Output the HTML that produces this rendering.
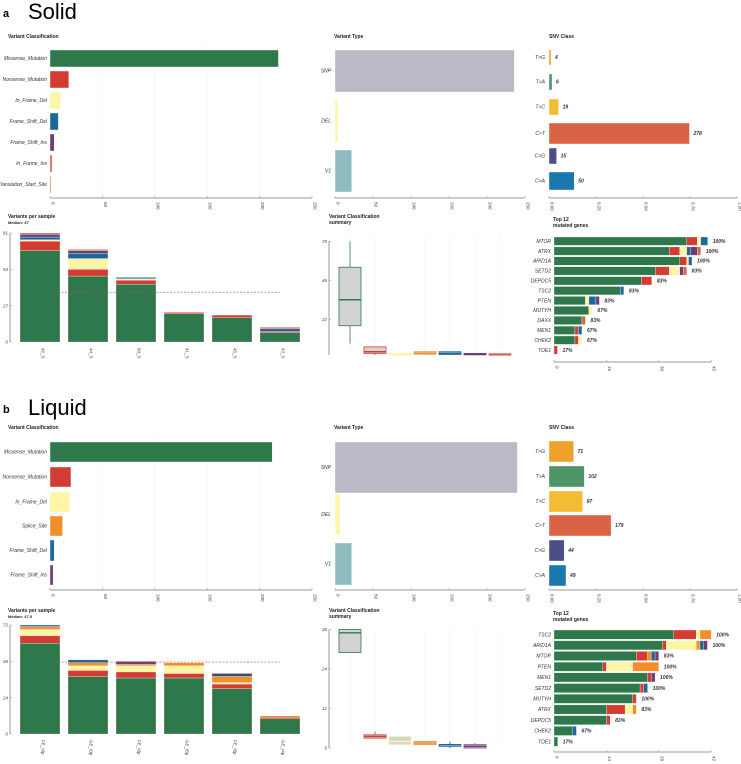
<!DOCTYPE html>
<html><head><meta charset="utf-8">
<style>
html,body{margin:0;padding:0;background:#fff;}
svg{display:block;font-family:"Liberation Sans",sans-serif;}
.t{font-size:5px;font-weight:bold;fill:#222}
.l{font-size:5px;font-style:italic;fill:#333}
.k{font-size:4.5px;fill:#444}
</style></head>
<body>
<svg id="fig" width="741" height="764" viewBox="0 0 741 764" xmlns="http://www.w3.org/2000/svg">
<text x="3" y="17" style="font-size:11px;font-weight:bold">a</text>
<text x="28" y="19" style="font-size:22px">Solid</text>
<text x="3" y="413" style="font-size:11px;font-weight:bold">b</text>
<text x="28" y="415" style="font-size:22px">Liquid</text>
</svg>
<script>
// ---- data: Solid ----
const sVcCats=["Missense_Mutation","Nonsense_Mutation","In_Frame_Del","Frame_Shift_Del","Frame_Shift_Ins","In_Frame_Ins","Translation_Start_Site"];
const sVcVals=[218,18,10,8,4,2,1];
const sVtCats=["SNP","DEL","V1"];
const sVtVals=[236,4,22];
const sSnvCats=["T>G","T>A","T>C","C>T","C>G","C>A"];
const sSnvVals=[4,6,19,278,15,50];
const sSamples=["46_S","44_S","50_S","41_S","45_S","43_S"];
const sStackKeys=["Missense_Mutation","Nonsense_Mutation","In_Frame_Del","Frame_Shift_Del","Frame_Shift_Ins","In_Frame_Ins","Splice_Site"];
const sStacks=[[68,7,1,2,2,1,0],[49,5,8,4,2,0,1],[43,3,1,1,0,0,0],[21,1,0,0,0,0,0],[18,2,0,0,0,0,0],[7,1,0,2,0,1,0]];
const sMedian=37;
const sSampleTicks=[0,27,54,81];
const sGenes=["MTOR","ATRX","ARID1A","SETD2","DEPDC5","TSC2","PTEN","MUTYH","DAXX","MEN1","CHEK2","TOE1"];
const sGeneStacks=[[38,3,1,2,0,0,0],[33,3,2,1,2,1,0],[36,2,0.5,1,0,0,0],[29,4,3,0,1,1,0],[25,3,0,0,0,0,0],[19,0,0,1,0,0,0],[9,0,1,2,1,0,0],[10,0,1,0,0,0,0],[8,0,0,0,0,1,0],[6,1,0,1,0,0,0],[6,1,1,0,0,0,0],[0,1,0,0,0,0,0]];
const sGenePct=["100%","100%","100%","83%","83%","83%","83%","67%","83%","67%","67%","17%"];
const sGeneTicks=[0,15,30,45];
const sBox=[[7,18,34,54,70],[0,1,2,5,5],[0,0,0.5,1,1],[0,0.5,1,2,2.5],[0,0.3,1,2,2],[0,0.3,0.5,1,1],[0,0.2,0.4,0.8,0.8]];
const sBoxTicks=[22,46,70];
// ---- data: Liquid ----
const lVcCats=["Missense_Mutation","Nonsense_Mutation","In_Frame_Del","Splice_Site","Frame_Shift_Del","Frame_Shift_Ins"];
const lVcVals=[212,20,19,12,4,3];
const lVtCats=["SNP","DEL","V1"];
const lVtVals=[240,7,22];
const lSnvCats=["T>G","T>A","T>C","C>T","C>G","C>A"];
const lSnvVals=[71,102,97,179,44,49];
const lSamples=["FE_I9p","GE_I0p","FE_I0p","GE_I8p","FE_I8p","GE_I4p"];
const lStackKeys=["Missense_Mutation","Nonsense_Mutation","In_Frame_Del","Splice_Site","Frame_Shift_Del","Frame_Shift_Ins","Multi_Hit"];
const lStacks=[[60,5,4,2,1,0,0],[38,4,3,2,2,0,0],[37,4,4,1,0,2,0],[37,3,5,2,0,0,0],[30,3,1,4,0,0,2],[10,1,0,1,0,0,0]];
const lMedian=47.5;
const lSampleTicks=[0,24,48,72];
const lGenes=["TSC2","ARID1A","MTOR","PTEN","MEN1","SETD2","MUTYH","ATRX","DEPDC5","CHEK2","TOE1"];
const lGeneStacks=[[32,6,1,3,0,0,0],[29,1,8,1,1,1,0],[22,3,0,1,1,1,0],[13,1,7,7,0,0,0],[25,1,0,0,0,1,0],[23,1,0,0,1,0,0],[21,1,0,0,0,0,0],[14,5,2,1,0,0,0],[14,1,0,0,0,0,0],[5,0,0,0,1,0,0],[1,0,0,0,0,0,0]];
const lGenePct=["100%","100%","83%","100%","100%","100%","100%","83%","83%","67%","17%"];
const lGeneTicks=[0,14,28,42];
const lBox=[[29,29,35,36,36],[3,3,3.5,4,5],[1,1,2,3.5,3.5],[1,1,1.5,2,2],[0,0.5,1,1,2],[0,0,0.5,1,1.5]];
const lBoxTicks=[0,12,24,36];
const vcTicks=[0,50,100,150,200,250];
const snvTicks=["0.00","0.25","0.50","0.75","1.00"];

const COL={Missense_Mutation:"#2f784c",Nonsense_Mutation:"#d23c33",In_Frame_Del:"#fdf5a6",Frame_Shift_Del:"#1c6898",Frame_Shift_Ins:"#6b3f75",In_Frame_Ins:"#d9644e",Translation_Start_Site:"#ee7a30",Splice_Site:"#f0902c",Multi_Hit:"#3d4a78"};
const VT={SNP:"#bdb8c5",DEL:"#fdf6ad",V1:"#8dbcc0"};
const SNV={"T>G":"#eea12b","T>A":"#4d9466","T>C":"#f4bb34","C>T":"#db6345","C>G":"#4c4f84","C>A":"#1a78ad"};
const BOXC=["#2f784c","#d23c33","#fdf5a6","#f0902c","#1c6898","#6b3f75","#d9644e"];

const svg=document.getElementById('fig');
const NS="http://www.w3.org/2000/svg";
function el(tag,at,txt){const e=document.createElementNS(NS,tag);for(const k in at)e.setAttribute(k,at[k]);if(txt!==undefined)e.textContent=txt;svg.appendChild(e);return e;}
function txt(x,y,s,cls,anchor,rot){const e=el('text',{x:x,y:y,class:cls,'text-anchor':anchor||'start'},s);if(rot)e.setAttribute('transform','rotate('+rot+' '+x+' '+y+')');return e;}
function grid(x0,x1,y0,y1,xs){xs.forEach(x=>{const g=el('line',{x1:x,x2:x,y1:y0,y2:y1,stroke:'#f0f0f0','stroke-width':0.5});});}
function xAxis(x0,x1,y,ticks,lab,name){const a=el('line',{x1:x0,x2:x1,y1:y,y2:y,stroke:'#999','stroke-width':1});
 ticks.forEach((t,i)=>{const x=x0+(x1-x0)*i/(ticks.length-1);el('line',{x1:x,x2:x,y1:y,y2:y-2,stroke:'#999','stroke-width':0.6});const tt=txt(x+1.5,y+4,lab?lab[i]:t,'k','start',90);});}

// horizontal bar chart with fixed row boxes
function hbar(cats,vals,colors,x0,pxPer,rows,labX,name,valLabels){
 cats.forEach((c,i)=>{const [y0,y1]=rows[i];const w=Math.max(0.8,vals[i]*pxPer);
  const r=el('rect',{x:x0,y:y0,width:w,height:y1-y0,fill:colors[c],stroke:'#fff','stroke-width':0.4});
  
  const t=txt(labX,(y0+y1)/2+1.7,c,'l','end');
  if(valLabels){const v=txt(x0+w+4,(y0+y1)/2+1.7,valLabels[i],'l');v.style.fontWeight='bold';}
 });}

function stackCols(samples,stacks,keys,x0,w,gap,yBase,pxPer,name){
 samples.forEach((s,i)=>{let y=yBase;const x=x0+i*(w+gap);
  stacks[i].forEach((v,k)=>{if(v<=0)return;const h=v*pxPer;y-=h;
   const r=el('rect',{x:x,y:y,width:w,height:h,fill:COL[keys[k]],stroke:'#fff','stroke-width':0.3});
   });
  const t=txt(x+w/2+1.5,yBase+6,s,'k','start',90);
 });}

function yAxis(x,yBase,pxPer,ticks,top,name){const a=el('line',{x1:x,x2:x,y1:yBase,y2:top,stroke:'#999','stroke-width':1});
 ticks.forEach(t=>{const y=yBase-t*pxPer;el('line',{x1:x,x2:x+2,y1:y,y2:y,stroke:'#999','stroke-width':0.6});const tt=txt(x-2,y+1.6,t,'k','end');tt.style.fontStyle='italic';});}

function geneBars(genes,stacks,pct,keys,x0,pxPer,y0,dy,h,name){
 genes.forEach((g,i)=>{let x=x0;const y=y0+i*dy;
  stacks[i].forEach((v,k)=>{if(v<=0)return;const w=v*pxPer;const r=el('rect',{x:x,y:y,width:w,height:h,fill:COL[keys[k]],stroke:'#fff','stroke-width':0.3});x+=w;});
  const t=txt(x0-3,y+h/2+1.7,g,'l','end');
  const p=txt(x+5,y+h/2+1.7,pct[i],'l');p.style.fontWeight='bold';
 });}

function boxes(data,x0,w,gap,yBase,pxPer,name){
 data.forEach((d,i)=>{const x=x0+i*(w+gap);const c=BOXC[i];const Y=v=>yBase-v*pxPer;
  el('line',{x1:x+w/2,x2:x+w/2,y1:Y(d[0]),y2:Y(d[4]),stroke:c,'stroke-width':0.8});
  const r=el('rect',{x:x,y:Y(d[3]),width:w,height:Math.max(1.5,Y(d[1])-Y(d[3])),fill:'#d3d3d3',stroke:c,'stroke-width':0.8});
  
  el('line',{x1:x,x2:x+w,y1:Y(d[2]),y2:Y(d[2]),stroke:c,'stroke-width':1.4});
 });}

function panel(P){
 const tt=(x,y,s,n)=>{const t=txt(x,y,s,'t');return t;};
 // VC
 tt(8,P.top+2,'Variant Classification','variant-classification-title');
 grid(0,0,P.top+10,P.vcAxisY,vcTicks.map((t,i)=>50+i*52.4));
 hbar(P.vcCats,P.vcVals,COL,50,262/250,P.vcRows,47,'vc');
 xAxis(50,312,P.vcAxisY,vcTicks,null,'vc-x-axis');
 // VT
 tt(334,P.top+2,'Variant Type','variant-type-title');
 hbar(P.vtCats,P.vtVals,VT,335,190/250,P.vtRows,331,'vt');
 xAxis(335,525,P.vcAxisY,vcTicks,null,'vt-x-axis');
 // SNV
 tt(549,P.top+2,'SNV Class','snv-class-title');
 const tot=P.snvVals.reduce((a,b)=>a+b,0);
 hbar(P.snvCats,P.snvVals.map(v=>v/tot),SNV,549,188,P.snvRows,545,'snv',P.snvVals);
 xAxis(549,737,P.vcAxisY,snvTicks,null,'snv-x-axis');
 // samples
 tt(8,P.sTop,'Variants per sample','variants-per-sample-title');
 const m=txt(8,P.sTop+6,'Median: '+P.median,'t');m.style.fontSize='4px';
 const ppx=(P.sBase-P.sTopAxis)/P.sTicks[P.sTicks.length-1];
 stackCols(P.samples,P.stacks,P.keys,20,40,8,P.sBase,ppx,'sample');
 yAxis(10,P.sBase,ppx,P.sTicks,P.sTopAxis,'sample-y-axis');
 const ml=el('line',{x1:51,x2:280,y1:P.sBase-P.median*ppx,y2:P.sBase-P.median*ppx,stroke:'#a55','stroke-width':0.6,'stroke-dasharray':'2,1.5'});
 
 // box
 tt(329,P.sTop,'Variant Classification','summary-title');tt(329,P.sTop+6,'summary','summary-title-2');
 const bpx=P.bPx;
 grid(0,0,P.bTopY,P.bBase,[350,375,400,425,450,475,500]);
 boxes(P.box,339,22,3,P.bBase,bpx,'summary');
 yAxis(329,P.bBase,bpx,P.bTicks,P.bBase-P.bTicks[P.bTicks.length-1]*bpx,'summary-y-axis');
 // genes
 tt(553,P.sTop+3,'Top 12','top-genes-title');tt(553,P.sTop+9,'mutated genes','top-genes-title-2');
 const gpx=52.4/(P.gTicks[1]);
 geneBars(P.genes,P.gStacks,P.pct,P.keys,554,gpx,P.gY0,P.gDy,P.gDy-1.5,'gene');
 xAxis(554,554+52.4*3,P.gAxisY,P.gTicks,null,'gene-x-axis');
}

panel({top:36,vcAxisY:198,vcCats:sVcCats,vcVals:sVcVals,
 vcRows:[[50,67],[71,88],[92,109],[113,130],[134,151],[155,172],[176,193]],
 vtCats:sVtCats,vtVals:sVtVals,vtRows:[[50,92],[100,142],[150,192]],
 snvCats:sSnvCats,snvVals:sSnvVals,snvRows:[[50,65],[74,90],[99,115],[123,144],[148,164],[172,190]],
 sTop:218,median:sMedian,samples:sSamples,stacks:sStacks,keys:sStackKeys,sBase:342,sTopAxis:233,sTicks:sSampleTicks,
 box:sBox,bBase:355,bPx:39/24,bTicks:sBoxTicks,bTopY:234,
 genes:sGenes,gStacks:sGeneStacks,pct:sGenePct,gY0:237,gDy:9.9,gAxisY:362,gTicks:sGeneTicks});
panel({top:427,vcAxisY:590,vcCats:lVcCats,vcVals:lVcVals,
 vcRows:[[442,462],[467,487],[492,512],[516,536],[540,561],[565,585]],
 vtCats:lVtCats,vtVals:lVtVals,vtRows:[[442,493],[494,535],[543,585]],
 snvCats:lSnvCats,snvVals:lSnvVals,snvRows:[[441,462],[466,487],[491,512],[515,536],[540,561],[565,586]],
 sTop:612,median:lMedian,samples:lSamples,stacks:lStacks,keys:lStackKeys,sBase:734,sTopAxis:625,sTicks:lSampleTicks,
 box:lBox,bBase:748,bPx:39.5/12,bTicks:lBoxTicks,bTopY:628,
 genes:lGenes,gStacks:lGeneStacks,pct:lGenePct,gY0:630,gDy:10.7,gAxisY:752,gTicks:lGeneTicks});
</script>
</body></html>
